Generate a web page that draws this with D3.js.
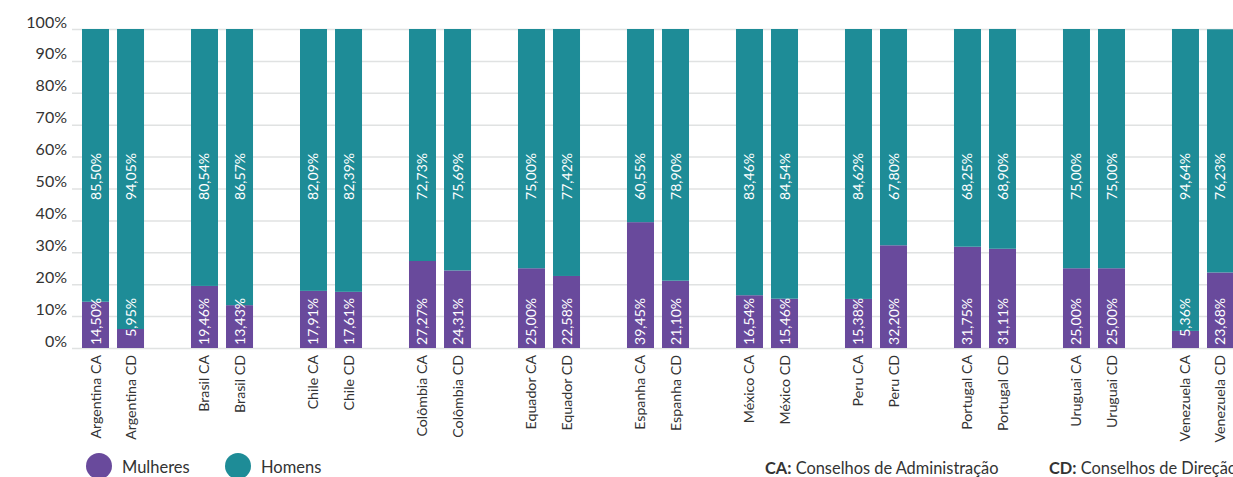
<!DOCTYPE html>
<html>
<head>
<meta charset="utf-8">
<script src="https://cdn.jsdelivr.net/npm/d3@7"></script>
<style>
  html, body { margin: 0; padding: 0; background: #fff; overflow: hidden; }
  svg { display: block; font-family: Lato, "Open Sans", sans-serif; }
</style>
</head>
<body>
<svg id="chart" width="1233" height="477"></svg>
<script>
const countries = ["Argentina", "Brasil", "Chile", "Colômbia", "Equador", "Espanha", "México", "Peru", "Portugal", "Uruguai", "Venezuela"];
const boards = ["CA", "CD"];
const mulheresCA = [14.50, 19.46, 17.91, 27.27, 25.00, 39.45, 16.54, 15.38, 31.75, 25.00, 5.36];
const homensCA   = [85.50, 80.54, 82.09, 72.73, 75.00, 60.55, 83.46, 84.62, 68.25, 75.00, 94.64];
const mulheresCD = [5.95, 13.43, 17.61, 24.31, 22.58, 21.10, 15.46, 32.20, 31.11, 25.00, 23.68];
const homensCD   = [94.05, 86.57, 82.39, 75.69, 77.42, 78.90, 84.54, 67.80, 68.90, 75.00, 76.23];
const yTicks = [0, 10, 20, 30, 40, 50, 60, 70, 80, 90, 100];
const seriesNames = ["Mulheres", "Homens"];
const colors = ["#694a9c", "#1e8c97"];

const rows = [];
countries.forEach((c, i) => {
  rows.push({country: c, board: "CA", label: c + " CA", m: mulheresCA[i], h: homensCA[i]});
  rows.push({country: c, board: "CD", label: c + " CD", m: mulheresCD[i], h: homensCD[i]});
});

const svg = d3.select("#chart");
const W = 1233;

const x0 = d3.scaleBand().domain(countries).range([82, 1234]).paddingInner(0.431).paddingOuter(0);
const x1 = d3.scaleBand().domain(boards).range([0, x0.bandwidth()]).paddingInner(0.229).paddingOuter(0);
const y = d3.scaleLinear().domain([0, 100]).range([348, 29]);
const bx = d => x0(d.country) + x1(d.board);
const bw = x1.bandwidth();

// grid + y axis
const yAxis = d3.axisLeft(y).tickValues(yTicks).tickFormat(d => d + "%").tickSize(-(W - 72)).tickPadding(5);
const gy = svg.append("g").attr("transform", "translate(72,0)").call(yAxis);
gy.select(".domain").remove();
gy.selectAll(".tick line").attr("stroke", "#e0e2e2").attr("stroke-width", 1.5);
gy.selectAll(".tick text").attr("fill", "#333").attr("font-size", 16).attr("dy", "-0.12em")
  .attr("font-family", "Lato, sans-serif");

// stacked bars
const stack = d3.stack().keys(["m", "h"]);
const layers = stack(rows);
svg.append("g").selectAll("g").data(layers).join("g")
  .attr("fill", (d, i) => colors[i])
  .selectAll("rect").data(d => d).join("rect")
  .attr("x", d => bx(d.data))
  .attr("width", bw)
  .attr("y", d => y(d[1]))
  .attr("height", d => y(d[0]) - y(d[1]));

// value labels (fixed vertical positions, as in the reference)
const fmt = v => v.toFixed(2).replace(".", ",") + "%";
const labelTop = {m: 298, h: 153};
["m", "h"].forEach(k => {
  svg.append("g").selectAll("text").data(rows).join("text")
    .attr("transform", d => `translate(${bx(d) + bw / 2 + 5},${labelTop[k]}) rotate(-90)`)
    .attr("text-anchor", "end")
    .attr("fill", "#fff")
    .attr("font-size", 14)
    .text(d => fmt(d[k]));
});

// x labels
svg.append("g").selectAll("text").data(rows).join("text")
  .attr("transform", d => `translate(${bx(d) + bw / 2 + 5},355) rotate(-90)`)
  .attr("text-anchor", "end")
  .attr("fill", "#333")
  .attr("font-size", 14.2)
  .text(d => d.label);

// legend
const legend = svg.append("g");
const legX = [99, 238];
seriesNames.forEach((n, i) => {
  legend.append("circle").attr("cx", legX[i]).attr("cy", 466).attr("r", 13).attr("fill", colors[i]);
  legend.append("text").attr("x", legX[i] + 23).attr("y", 473).attr("font-size", 16.5).attr("fill", "#333").text(n);
});

// notes
const notes = [{k: "CA:", t: " Conselhos de Administração", x: 765}, {k: "CD:", t: " Conselhos de Direção", x: 1049}];
notes.forEach(n => {
  const t = svg.append("text").attr("x", n.x).attr("y", 474).attr("font-size", 16.4).attr("fill", "#333");
  t.append("tspan").attr("font-weight", "bold").text(n.k);
  t.append("tspan").text(n.t);
});
</script>
</body>
</html>
